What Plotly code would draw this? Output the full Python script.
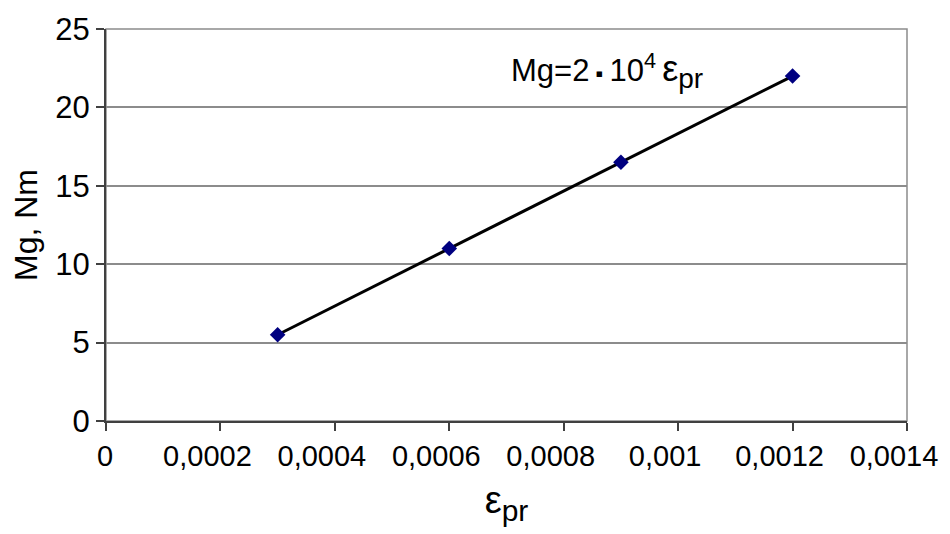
import plotly.graph_objects as go

eps = [0.0003, 0.0006, 0.0009, 0.0012]
mg = [5.5, 11.0, 16.5, 22.0]
x_ticks = [0, 0.0002, 0.0004, 0.0006, 0.0008, 0.001, 0.0012, 0.0014]
x_ticktext = ["\u00a0\u00a0\u00a00", "0,0002", "0,0004", "0,0006", "0,0008", "0,001", "0,0012", "0,0014"]
y_ticks = [0, 5, 10, 15, 20, 25]

fig = go.Figure()
fig.add_trace(go.Scatter(
    x=eps, y=mg, mode="lines+markers",
    line=dict(color="black", width=3),
    marker=dict(symbol="diamond", size=12, color="#000080"),
    showlegend=False,
))

fig.add_shape(type="rect", xref="paper", yref="paper", x0=0, y0=0, x1=1, y1=1,
              line=dict(color="#8c8c8c", width=1.5), layer="below")

fig.add_annotation(
    x=0.000705, y=22.3, xref="x", yref="y", xanchor="left", yanchor="middle",
    text=("Mg=2<span style='font-size:22px'>\u00a0▪\u00a0</span>10<sup>4</sup>\u2009"
          "<span style='font-size:36px'>ε</span><sub><span style='font-size:28px'>pr</span></sub>"),
    showarrow=False,
    font=dict(family="Arial, Liberation Sans", size=31, color="black"),
)

fig.update_layout(
    width=950, height=534,
    margin=dict(l=106, r=43, t=27, b=113),
    plot_bgcolor="white", paper_bgcolor="white",
    font=dict(family="Arial, Liberation Sans", color="black"),
)
fig.update_xaxes(
    range=[0, 0.00140001], tickvals=x_ticks, ticktext=x_ticktext,
    showgrid=False, zeroline=False,
    showline=True, linecolor="#404040", linewidth=2,
    ticks="outside", ticklen=8, tickcolor="#404040", tickwidth=1.5,
    ticklabelshift=-13,
    tickfont=dict(family="Arial, Liberation Sans", size=29, color="black"),
    title=dict(text="ε<sub><span style='font-size:30px'>pr</span></sub>",
               font=dict(size=38, color="black"), standoff=16),
)
fig.update_yaxes(
    range=[0, 25], tickvals=y_ticks,
    showgrid=True, gridcolor="#8c8c8c", gridwidth=1.5, zeroline=False,
    showline=True, linecolor="#404040", linewidth=2,
    ticks="outside", ticklen=8, tickcolor="#404040", tickwidth=1.5,
    tickfont=dict(size=31, color="black"),
    title=dict(text="Mg, Nm", font=dict(size=32, color="black"), standoff=8),
)

fig.write_html("out.html")
